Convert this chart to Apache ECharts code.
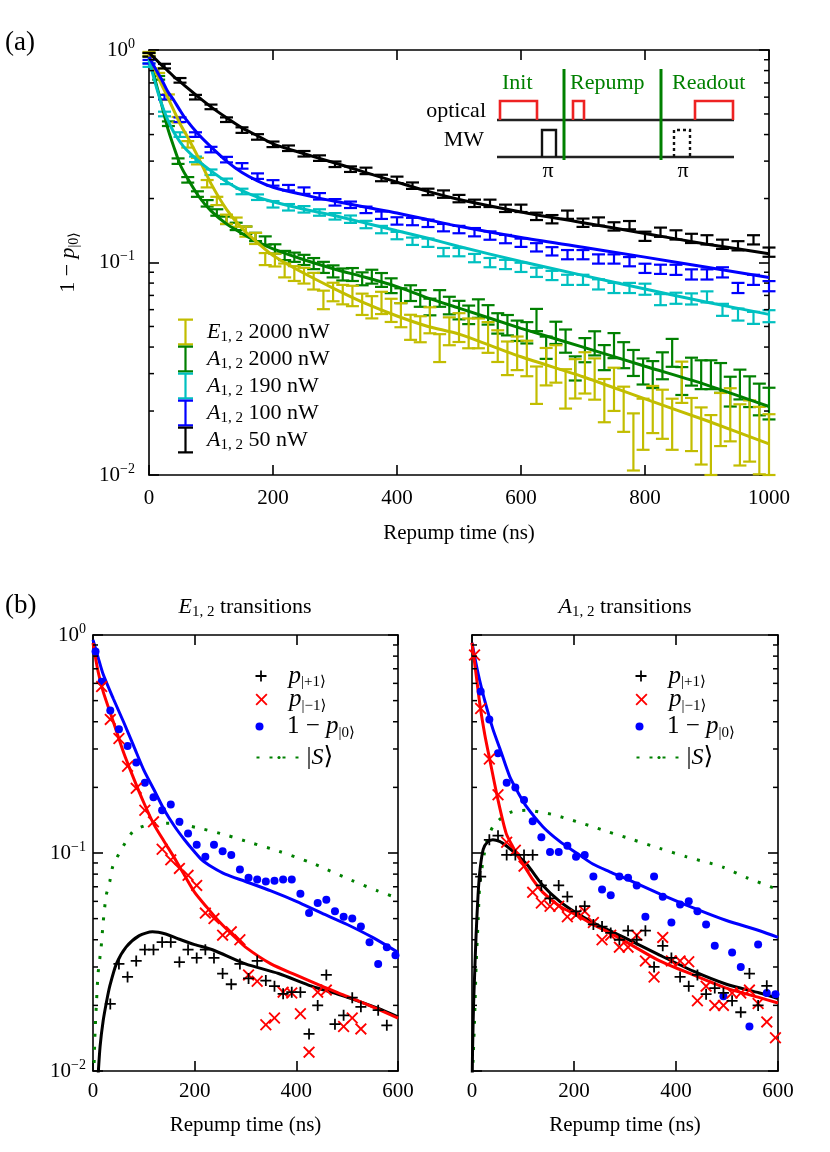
<!DOCTYPE html>
<html><head><meta charset="utf-8">
<script src="https://cdn.jsdelivr.net/npm/echarts@6/dist/echarts.min.js"></script>
<style>html,body{margin:0;padding:0;background:#fff}#c{width:830px;height:1152px}</style>
</head><body><div id="c"></div>
<script>
// ================= DATA =================
// Panel (a): repump time (ns)
const tA25 = [0,25,50,75,100,125,150,175,200,225,250,275,300,325,350,375,400,425,450,475,500,525,550,575,600,625,650,675,700,725,750,775,800,825,850,875,900,925,950,975,1000];
const tA16 = [0,15.6,31.3,46.9,62.5,78.1,93.8,109.4,125,140.6,156.3,171.9,187.5,203.1,218.8,234.4,250,265.6,281.3,296.9,312.5,328.1,343.8,359.4,375,390.6,406.3,421.9,437.5,453.1,468.8,484.4,500,515.6,531.3,546.9,562.5,578.1,593.8,609.4,625,640.6,656.3,671.9,687.5,703.1,718.8,734.4,750,765.6,781.3,796.9,812.5,828.1,843.8,859.4,875,890.6,906.3,921.9,937.5,953.1,968.8,984.4,1000];

const a50 = [0.95,0.84,0.72,0.60,0.54,0.47,0.42,0.39,0.36,0.345,0.325,0.31,0.29,0.275,0.27,0.25,0.245,0.23,0.215,0.21,0.20,0.19,0.19,0.18,0.18,0.165,0.16,0.168,0.154,0.156,0.148,0.15,0.133,0.139,0.135,0.13,0.128,0.122,0.12,0.128,0.112];
const a50Err = [0.02,0.025,0.025,0.025,0.025,0.025,0.03,0.03,0.03,0.03,0.03,0.03,0.03,0.03,0.035,0.035,0.035,0.035,0.035,0.04,0.04,0.04,0.04,0.04,0.04,0.04,0.045,0.045,0.045,0.045,0.045,0.045,0.05,0.05,0.05,0.05,0.05,0.05,0.05,0.05,0.05];
const a100 = [0.88,0.60,0.47,0.40,0.34,0.305,0.285,0.255,0.237,0.225,0.218,0.205,0.192,0.187,0.177,0.167,0.157,0.156,0.153,0.146,0.143,0.139,0.134,0.129,0.124,0.118,0.113,0.109,0.109,0.104,0.104,0.101,0.094,0.093,0.0925,0.088,0.088,0.090,0.076,0.083,0.0775];
const a100Err = [0.02,0.025,0.025,0.025,0.03,0.03,0.03,0.03,0.03,0.03,0.035,0.035,0.035,0.035,0.035,0.04,0.04,0.04,0.04,0.04,0.04,0.045,0.045,0.045,0.045,0.045,0.045,0.05,0.05,0.05,0.05,0.05,0.05,0.05,0.055,0.055,0.055,0.055,0.055,0.055,0.055];
const a190 = [0.85,0.50,0.40,0.306,0.266,0.241,0.216,0.203,0.188,0.182,0.178,0.172,0.165,0.16,0.151,0.143,0.134,0.126,0.124,0.112,0.112,0.105,0.10,0.098,0.095,0.09,0.087,0.083,0.083,0.079,0.076,0.076,0.075,0.067,0.068,0.0675,0.069,0.060,0.057,0.055,0.056];
const a190Err = [0.02,0.025,0.025,0.03,0.03,0.03,0.03,0.03,0.035,0.035,0.035,0.035,0.035,0.04,0.04,0.04,0.04,0.04,0.045,0.045,0.045,0.045,0.05,0.05,0.05,0.05,0.05,0.055,0.055,0.055,0.055,0.055,0.06,0.06,0.06,0.06,0.06,0.065,0.065,0.065,0.065];
const a2000 = [0.95,0.74,0.45,0.30,0.245,0.21,0.19,0.172,0.158,0.148,0.142,0.132,0.127,0.116,0.108,0.106,0.103,0.099,0.095,0.091,0.088,0.088,0.084,0.086,0.083,0.078,0.070,0.072,0.068,0.062,0.068,0.063,0.060,0.057,0.061,0.057,0.052,0.051,0.048,0.047,0.054,0.040,0.047,0.043,0.032,0.039,0.042,0.036,0.041,0.037,0.034,0.031,0.030,0.033,0.038,0.028,0.031,0.030,0.030,0.029,0.025,0.027,0.025,0.023,0.022];
const a2000Err = [0.02,0.02,0.025,0.03,0.03,0.03,0.035,0.035,0.04,0.04,0.04,0.045,0.045,0.05,0.05,0.05,0.055,0.06,0.06,0.065,0.065,0.07,0.07,0.075,0.075,0.08,0.08,0.085,0.09,0.09,0.09,0.095,0.1,0.1,0.1,0.105,0.11,0.11,0.11,0.115,0.12,0.12,0.12,0.125,0.13,0.13,0.13,0.135,0.135,0.14,0.14,0.14,0.145,0.145,0.15,0.15,0.15,0.155,0.155,0.16,0.16,0.16,0.165,0.17,0.17];
const e2000 = [0.96,0.80,0.60,0.47,0.36,0.30,0.235,0.195,0.16,0.155,0.14,0.13,0.104,0.103,0.092,0.089,0.087,0.082,0.067,0.073,0.071,0.070,0.064,0.062,0.065,0.060,0.057,0.050,0.049,0.054,0.040,0.048,0.050,0.047,0.047,0.045,0.041,0.036,0.038,0.036,0.027,0.033,0.034,0.026,0.029,0.031,0.029,0.023,0.026,0.021,0.015,0.018,0.021,0.020,0.018,0.028,0.018,0.016,0.0145,0.019,0.020,0.0163,0.017,0.0155,0.014];
const e2000Err = [0.02,0.025,0.03,0.03,0.035,0.035,0.04,0.045,0.05,0.05,0.055,0.06,0.065,0.07,0.075,0.08,0.085,0.09,0.1,0.1,0.105,0.11,0.115,0.12,0.12,0.125,0.13,0.135,0.14,0.14,0.15,0.15,0.155,0.16,0.16,0.165,0.17,0.18,0.18,0.19,0.2,0.2,0.2,0.21,0.21,0.22,0.22,0.23,0.23,0.24,0.3,0.27,0.25,0.26,0.27,0.22,0.28,0.3,0.32,0.28,0.28,0.32,0.32,0.35,0.38];

// Panel (a) fit curves
const tFitA = [0,10,20,30,40,50,60,80,100,125,150,175,200,250,300,350,400,450,500,600,700,800,900,1000];
const fit50   = [0.97,0.91,0.85,0.80,0.75,0.71,0.67,0.60,0.54,0.48,0.43,0.395,0.362,0.325,0.294,0.265,0.239,0.216,0.198,0.173,0.154,0.137,0.122,0.11];
const fit100  = [0.93,0.82,0.73,0.64,0.58,0.52,0.47,0.40,0.35,0.30,0.265,0.242,0.226,0.208,0.194,0.182,0.171,0.159,0.148,0.131,0.118,0.106,0.095,0.085];
const fit190  = [0.90,0.70,0.56,0.47,0.41,0.37,0.34,0.30,0.27,0.24,0.218,0.203,0.193,0.178,0.166,0.153,0.141,0.13,0.119,0.101,0.087,0.075,0.065,0.057];
const fitA2000= [0.92,0.72,0.56,0.43,0.35,0.29,0.255,0.205,0.175,0.152,0.137,0.125,0.116,0.103,0.093,0.085,0.077,0.068,0.061,0.049,0.040,0.0325,0.0265,0.021];
const fitE2000= [0.96,0.80,0.69,0.60,0.52,0.45,0.40,0.31,0.235,0.178,0.145,0.124,0.108,0.089,0.075,0.064,0.056,0.050,0.046,0.036,0.029,0.0228,0.018,0.014];

// Panel (b): populations
const tB = [5,17,34,51,68,85,102,119,136,153,170,187,204,221,238,255,272,289,306,323,340,357,374,391,408,425,442,459,476,493,510,527,544,561,578,595];
const pPlusE  = [null,null,0.0203,0.031,0.027,0.032,0.036,0.036,0.039,0.039,0.0316,0.036,0.033,0.036,0.033,0.028,0.025,0.031,0.0266,0.032,0.026,0.0245,0.0226,0.023,0.023,0.0148,0.020,0.0276,0.0164,0.018,0.0217,0.0197,null,0.019,0.0162,null];
const pMinusE = [null,0.58,0.41,0.335,0.25,0.198,0.157,0.139,0.104,0.093,0.085,0.079,0.071,0.053,0.050,0.042,0.0435,0.040,0.0276,0.0258,0.0163,0.0175,0.023,0.0228,0.0183,0.0122,0.023,0.0235,null,0.016,0.0175,0.0156,null,null,null,null];
const oneMinusE = [0.84,0.61,0.45,0.37,0.31,0.26,0.21,0.18,0.157,0.167,0.139,0.123,0.109,0.096,0.109,0.102,0.098,0.084,0.077,0.0755,0.074,0.0745,0.0755,0.0755,0.065,0.053,0.059,0.061,0.054,0.051,0.050,0.046,0.039,0.031,0.037,0.034];
const pPlusA  = [null,0.078,0.115,0.12,0.098,0.098,0.098,0.098,0.071,0.062,0.071,0.063,0.054,0.057,0.047,0.046,0.043,0.040,0.044,0.040,0.044,0.030,0.0375,0.033,0.027,0.0245,0.0276,0.0225,0.024,0.0228,0.021,0.0186,0.028,0.020,0.0246,null];
const pMinusA = [0.81,0.46,0.27,0.185,0.112,0.103,0.087,0.066,0.059,0.057,0.057,0.051,0.052,0.054,0.048,0.040,0.042,0.037,0.037,0.042,0.032,0.027,0.041,0.032,0.032,0.0317,0.021,0.0245,0.020,0.020,0.0228,0.0228,0.0235,0.0204,0.0168,0.0142];
const oneMinusA = [null,0.55,0.41,0.287,0.21,0.20,0.175,0.14,0.118,0.101,0.101,0.108,0.096,0.098,0.078,0.068,0.064,0.078,0.077,0.071,0.051,0.078,0.063,0.048,0.058,0.06,0.054,0.047,0.0375,0.022,0.035,0.030,0.016,0.038,0.0228,0.0225];

// Panel (b) model curves, E transitions
const tFitBlueE = [0,10,20,40,60,80,100,120,140,160,180,200,214,235,260,300,350,400,450,500,550,600];
const fitBlueE  = [0.95,0.79,0.66,0.51,0.40,0.31,0.24,0.195,0.158,0.133,0.115,0.101,0.093,0.086,0.080,0.074,0.067,0.060,0.053,0.047,0.041,0.035];
const tFitRedE = [0,10,20,40,60,80,100,120,140,160,180,200,225,250,275,300,350,400,450,500,550,600];
const fitRedE  = [0.92,0.68,0.55,0.40,0.29,0.22,0.17,0.135,0.113,0.095,0.079,0.066,0.056,0.048,0.042,0.037,0.031,0.0275,0.0245,0.022,0.0197,0.0175];
const tFitBlackE = [10,14,20,27,33,46,65,91,117,143,170,200,235,300,365,430,495,560,600];
const fitBlackE  = [0.0095,0.013,0.017,0.021,0.0245,0.031,0.037,0.0418,0.0435,0.0425,0.0402,0.038,0.036,0.031,0.028,0.0245,0.022,0.0194,0.0177];
const tFitSE = [1.5,4,7,10,16,20,26,33,39,52,78,104,130,156,209,261,313,365,430,460,508,560,600];
const fitSE  = [0.0095,0.015,0.021,0.028,0.037,0.048,0.064,0.074,0.087,0.10,0.125,0.134,0.137,0.137,0.130,0.121,0.111,0.102,0.090,0.084,0.075,0.067,0.062];
// Panel (b) model curves, A transitions
const tFitBlueA = [0,5,10,15,25,41,55,74,90,107,139,172,205,237,270,303,368,434,499,564,600];
const fitBlueA  = [0.92,0.80,0.70,0.62,0.50,0.37,0.30,0.224,0.19,0.163,0.132,0.113,0.10,0.089,0.082,0.076,0.065,0.056,0.049,0.044,0.041];
const tFitRedA = [0,2,8,16,25,35,51,67,80,90,100,120,139,172,205,237,270,303,368,434,499,564,600];
const fitRedA  = [0.92,0.85,0.66,0.47,0.35,0.267,0.175,0.123,0.107,0.097,0.089,0.075,0.066,0.057,0.052,0.047,0.043,0.039,0.032,0.0276,0.024,0.0217,0.0205];
const tFitBlackA = [0.5,1,3,5,8,12,16,22,30,41,54,67,80,107,139,172,205,237,270,303,368,434,499,564,600];
const fitBlackA  = [0.0095,0.012,0.02,0.027,0.042,0.065,0.085,0.104,0.112,0.115,0.113,0.108,0.102,0.089,0.071,0.060,0.053,0.048,0.044,0.0405,0.034,0.0287,0.025,0.0228,0.0215];
const tFitSA = [1,2,5,8,12,15,22,30,41,61,80,107,133,159,185,211,237,263,316,368,421,473,493,539,600];
const fitSA  = [0.0095,0.011,0.017,0.030,0.049,0.070,0.093,0.115,0.132,0.147,0.155,0.157,0.154,0.15,0.144,0.138,0.132,0.126,0.115,0.105,0.096,0.089,0.086,0.077,0.068];

// log-axis minor tick values
const minorVals = [0.02,0.03,0.04,0.05,0.06,0.07,0.08,0.09,0.2,0.3,0.4,0.5,0.6,0.7,0.8,0.9];

// ================= STYLE =================
const FONT = '"Liberation Serif","DejaVu Serif",serif';
const C = {yellow:'#c2bd00', green:'#008000', cyan:'#00c0c0', blue:'#0000ff', black:'#000000', red:'#ff0000'};
const RICH = {
  n:{fontFamily:FONT,fontSize:21,color:'#000',lineHeight:26},
  nl:{fontFamily:FONT,fontSize:22,color:'#000',lineHeight:26},
  nb:{fontFamily:FONT,fontSize:25,color:'#000',lineHeight:28},
  i:{fontFamily:FONT,fontSize:21,fontStyle:'italic',color:'#000',lineHeight:26},
  il:{fontFamily:FONT,fontSize:22,fontStyle:'italic',color:'#000',lineHeight:26},
  ip:{fontFamily:FONT,fontSize:25,fontStyle:'italic',color:'#000',lineHeight:28},
  ib:{fontFamily:FONT,fontSize:24,fontStyle:'italic',color:'#000',lineHeight:28},
  sub:{fontFamily:FONT,fontSize:14,color:'#000',lineHeight:14,verticalAlign:'bottom'},
  subl:{fontFamily:FONT,fontSize:15,color:'#000',lineHeight:15,verticalAlign:'bottom'},
  sup:{fontFamily:FONT,fontSize:14,color:'#000',lineHeight:14,verticalAlign:'top'}
};
const AXLINE = {show:true,onZero:false,lineStyle:{color:'#000',width:1.6}};
const TICK = {show:true,inside:true,length:10,lineStyle:{color:'#000',width:1.6}};
const logFmt = v => { const e = Math.round(Math.log10(v)); return '{n|10}{sup|' + (e<0?'\u2212'+(-e):e) + '}'; };

function xAx(gi, max, pos, labels, name, gap) {
  return {type:'value', gridIndex:gi, min:0, max:max, interval:200, position:pos,
    axisLine:AXLINE, axisTick:TICK, splitLine:{show:false},
    axisLabel:{show:labels, margin: gi===0?13:10, fontFamily:FONT, fontSize:21, color:'#000', formatter: v => String(v)},
    name: name||'', nameLocation:'middle', nameGap:gap||0,
    nameTextStyle:{fontFamily:FONT,fontSize:21,color:'#000'}};
}
function yAx(gi, pos, labels, margin) {
  return {type:'log', logBase:10, gridIndex:gi, min:0.01, max:1, position:pos,
    axisLine:AXLINE, axisTick:TICK, splitLine:{show:false}, minorTick:{show:false},
    axisLabel:{show:labels, margin:margin||8, formatter:logFmt, rich:RICH}};
}
function minorTicks(xi, yi, xmax) {
  return {type:'custom', xAxisIndex:xi, yAxisIndex:yi, silent:true, z:5,
    data: minorVals.map(v => [0, v]),
    renderItem:(params, api) => {
      const v = api.value(1);
      const p0 = api.coord([0, v]), p1 = api.coord([xmax, v]);
      const st = {stroke:'#000', lineWidth:1.5};
      return {type:'group', children:[
        {type:'line', shape:{x1:p0[0], y1:p0[1], x2:p0[0]+5, y2:p0[1]}, style:st},
        {type:'line', shape:{x1:p1[0]-5, y1:p1[1], x2:p1[0], y2:p1[1]}, style:st}]};
    }};
}
function errSeries(name, color, t, v, rel) {
  return {type:'custom', name:name, xAxisIndex:0, yAxisIndex:0, z:2, itemStyle:{color:color},
    data: t.map((x,i) => [x, v[i], v[i]*rel[i]]),
    renderItem:(params, api) => {
      const x = api.value(0), y = api.value(1), e = api.value(2);
      const lo = Math.max(y - e, 0.01), hi = Math.min(y + e, 1);
      const pl = api.coord([x, lo]), ph = api.coord([x, hi]);
      const hw = 6.5, st = {stroke:color, lineWidth:2.2};
      return {type:'group', children:[
        {type:'line', shape:{x1:pl[0], y1:pl[1], x2:ph[0], y2:ph[1]}, style:st},
        {type:'line', shape:{x1:pl[0]-hw, y1:pl[1], x2:pl[0]+hw, y2:pl[1]}, style:st},
        {type:'line', shape:{x1:ph[0]-hw, y1:ph[1], x2:ph[0]+hw, y2:ph[1]}, style:st}]};
    }};
}
function lineSeries(name, color, t, v, ax, dash) {
  return {type:'line', name:name, xAxisIndex:ax, yAxisIndex:ax, z:3, clip:true,
    data: t.map((x,i) => [x, v[i]]), symbol:'none', showSymbol:false,
    smooth:0.25,
    lineStyle:{color:color, width:3, type: dash ? [3,10] : 'solid', cap:'butt'},
    itemStyle:{color:color}};
}
const PLUS = 'path://M4.2,0H5.8V4.2H10V5.8H5.8V10H4.2V5.8H0V4.2H4.2Z';
const CROSS = 'path://M0,1.1L1.1,0L5,3.9L8.9,0L10,1.1L6.1,5L10,8.9L8.9,10L5,6.1L1.1,10L0,8.9L3.9,5Z';
function scat(name, color, v, ax, symbol, size) {
  return {type:'scatter', name:name, xAxisIndex:ax, yAxisIndex:ax, z:4,
    data: tB.map((x,i) => v[i]==null ? null : [x, v[i]]).filter(d => d),
    symbol:symbol, symbolSize:size, itemStyle:{color:color, opacity:1}};
}
const IBEAM = 'path://M0,0H15V2.2H8.6V24.8H15V27H0V24.8H6.4V2.2H0Z';
const LABELS = {
  E2000:'{il|E}{subl|1, 2}{nl| 2000 nW}', A2000:'{il|A}{subl|1, 2}{nl| 2000 nW}',
  A190:'{il|A}{subl|1, 2}{nl| 190 nW}', A100:'{il|A}{subl|1, 2}{nl| 100 nW}', A50:'{il|A}{subl|1, 2}{nl| 50 nW}',
  pp1E:'{ip|p}{subl||+1\u27E9}', pm1E:'{ip|p}{subl||\u22121\u27E9}', omE:'{nb|1 \u2212 }{ip|p}{subl||0\u27E9}', SE:'{nb||}{ib|S}{nb|\u27E9}',
  pp1A:'{ip|p}{subl||+1\u27E9}', pm1A:'{ip|p}{subl||\u22121\u27E9}', omA:'{nb|1 \u2212 }{ip|p}{subl||0\u27E9}', SA:'{nb||}{ib|S}{nb|\u27E9}'
};
function rowLegend(name, cx, cy, w, h) {
  return {data:[name], left:cx - w/2, top:cy - h/2, itemWidth:w, itemHeight:h, padding:0,
    selectedMode:false, orient:'vertical', formatter: n => LABELS[n],
    textStyle:{rich:RICH, padding:[0,0,0,0]}};
}
const GT = (txt, x, y, color, align, size) => ({type:'text', x:x, y:y, z:20,
  style:{text:txt, fill:color, font:(size||21)+'px '+FONT, align:align||'left', textAlign:align||'left', verticalAlign:'middle', textVerticalAlign:'middle'}});
const GL = (x1,y1,x2,y2,color,w,dash) => ({type:'line', z:20, shape:{x1,y1,x2,y2}, style:{stroke:color, lineWidth:w, lineDash:dash||null}});
const GP = (pts,color,w,dash) => ({type:'polyline', z:20, shape:{points:pts}, style:{stroke:color, lineWidth:w, fill:null, lineDash:dash||null}});

const RED2 = '#ee2222';
const option = {
  animation:false, backgroundColor:'#fff',
  grid:[
    {left:149, top:50, width:620, height:425},
    {left:93, top:635, width:305, height:436},
    {left:472, top:635, width:306, height:436}
  ],
  xAxis:[
    xAx(0,1000,'bottom',true,'Repump time (ns)',48), xAx(0,1000,'top',false),
    xAx(1,600,'bottom',true,'Repump time (ns)',44), xAx(1,600,'top',false),
    xAx(2,600,'bottom',true,'Repump time (ns)',44), xAx(2,600,'top',false)
  ],
  yAxis:[
    Object.assign(yAx(0,'left',true,14), {name:'{nl|1 \u2212 }{il|p}{sub||0\u27E9}', nameLocation:'middle', nameGap:68, nameRotate:90, nameTextStyle:{rich:RICH}}),
    yAx(0,'right',false),
    yAx(1,'left',true,7), yAx(1,'right',false),
    yAx(2,'left',false), yAx(2,'right',false)
  ],
  legend:[
    {data:['E2000','A2000','A190','A100','A50'].map(n => ({name:n, icon:IBEAM})),
     left:178, top:318.5, orient:'vertical', itemWidth:15, itemHeight:27, itemGap:0, padding:0,
     selectedMode:false, formatter: n => LABELS[n], textStyle:{rich:RICH, padding:[0,0,0,9]}},
    rowLegend('pp1E',278,669,45,11), rowLegend('pm1E',278,693,45,12), rowLegend('omE',278,718,45,8), rowLegend('SE',278,747,45,4),
    rowLegend('pp1A',658,669,45,11), rowLegend('pm1A',658,693,45,12), rowLegend('omA',658,718,45,8), rowLegend('SA',658,747,45,4)
  ],
  series:[
    minorTicks(0,0,1000), minorTicks(2,2,600), minorTicks(4,4,600),
    errSeries('A2000', C.green, tA16, a2000, a2000Err),
    errSeries('E2000', C.yellow, tA16, e2000, e2000Err),
    errSeries('A190', C.cyan, tA25, a190, a190Err),
    errSeries('A100', C.blue, tA25, a100, a100Err),
    errSeries('A50', C.black, tA25, a50, a50Err),
    lineSeries('fA2000', C.green, tFitA, fitA2000, 0),
    lineSeries('fE2000', C.yellow, tFitA, fitE2000, 0),
    lineSeries('f190', C.cyan, tFitA, fit190, 0),
    lineSeries('f100', C.blue, tFitA, fit100, 0),
    lineSeries('f50', C.black, tFitA, fit50, 0),
    // (b) left: E transitions
    lineSeries('SE', C.green, tFitSE, fitSE, 2, true),
    lineSeries('fBlueE', C.blue, tFitBlueE, fitBlueE, 2),
    lineSeries('fBlackE', C.black, tFitBlackE, fitBlackE, 2),
    lineSeries('fRedE', C.red, tFitRedE, fitRedE, 2),
    scat('omE', C.blue, oneMinusE, 2, 'circle', 8),
    scat('pm1E', C.red, pMinusE, 2, CROSS, 12),
    scat('pp1E', C.black, pPlusE, 2, PLUS, 11),
    // (b) right: A transitions
    lineSeries('SA', C.green, tFitSA, fitSA, 4, true),
    lineSeries('fBlueA', C.blue, tFitBlueA, fitBlueA, 4),
    lineSeries('fBlackA', C.black, tFitBlackA, fitBlackA, 4),
    lineSeries('fRedA', C.red, tFitRedA, fitRedA, 4),
    scat('omA', C.blue, oneMinusA, 4, 'circle', 8),
    scat('pm1A', C.red, pMinusA, 4, CROSS, 12),
    scat('pp1A', C.black, pPlusA, 4, PLUS, 11)
  ],
  graphic:[
    GT('(a)', 5, 43, '#000', 'left', 27),
    GT('(b)', 5, 606, '#000', 'left', 27),
    {type:'text', x:245, y:607, z:20, style:{text:'{il|E}{subl|1, 2}{nl| transitions}', rich:RICH, align:'center', textAlign:'center', verticalAlign:'middle', textVerticalAlign:'middle'}},
    {type:'text', x:625, y:607, z:20, style:{text:'{il|A}{subl|1, 2}{nl| transitions}', rich:RICH, align:'center', textAlign:'center', verticalAlign:'middle', textVerticalAlign:'middle'}},
    // inset pulse sequence
    GT('Init', 502, 83, C.green, 'left', 22), GT('Repump', 570, 83, C.green, 'left', 22), GT('Readout', 672, 83, C.green, 'left', 22),
    GT('optical', 486, 111, '#000', 'right', 22), GT('MW', 484, 140, '#000', 'right', 22),
    GL(497,120,734,120,'#222',2.4), GL(497,157,734,157,'#222',2.4),
    GP([[500,120],[500,101],[537,101],[537,120]], RED2, 2.6),
    GP([[573,120],[573,101],[584,101],[584,120]], RED2, 2.6),
    GP([[695,120],[695,101],[733,101],[733,120]], RED2, 2.6),
    GP([[542,157],[542,130],[556,130],[556,157]], '#111', 2.4),
    GP([[674,157],[674,130],[690,130],[690,157]], '#111', 2.4, [3,3]),
    GL(564,69,564,160,C.green,3), GL(661,69,661,160,C.green,3),
    GT('\u03C0', 548, 171, '#000', 'center', 22), GT('\u03C0', 683, 171, '#000', 'center', 22)
  ]
};
const chart = echarts.init(document.getElementById('c'), null, {renderer:'canvas'});
chart.setOption(option);
</script>
</body></html>
